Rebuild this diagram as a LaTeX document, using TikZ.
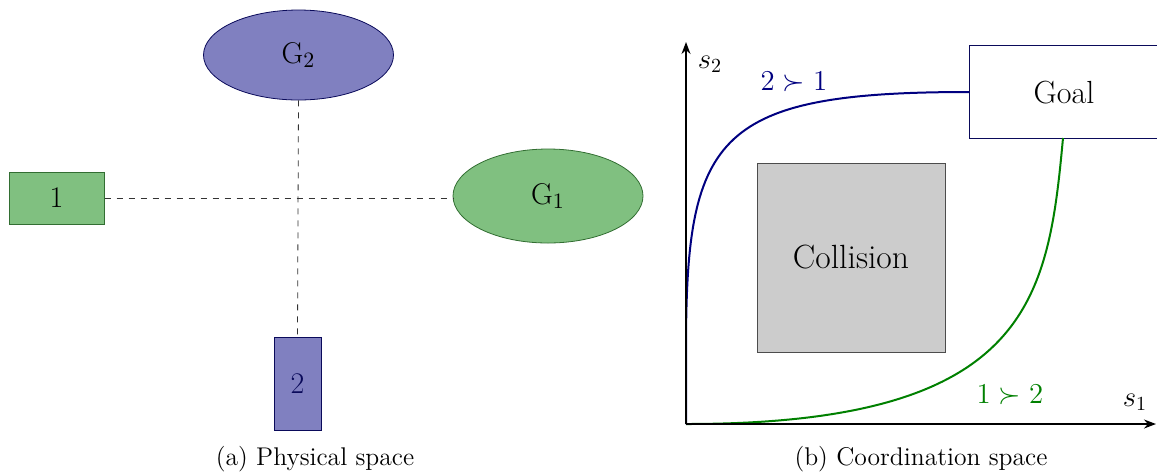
\documentclass[tikz,border=0pt]{standalone}
\usetikzlibrary{shapes.geometric,arrows.meta}
\definecolor{gfill}{RGB}{128,192,128}
\definecolor{gdraw}{RGB}{50,110,50}
\definecolor{bfill}{RGB}{128,128,192}
\definecolor{bdraw}{RGB}{10,10,90}
\definecolor{cnavy}{RGB}{0,0,128}
\definecolor{cgreen}{RGB}{0,128,0}
\definecolor{cgray}{RGB}{204,204,204}
\begin{document}
\begin{tikzpicture}[x=0.5pt,y=-0.5pt,
  agentg/.style={draw=gdraw,fill=gfill,inner sep=0pt,line width=0.5pt},
  agentb/.style={draw=bdraw,fill=bfill,inner sep=0pt,line width=0.5pt,text=bdraw},
  goalg/.style={ellipse,draw=gdraw,fill=gfill,minimum width=95pt,minimum height=47pt,inner sep=0pt,line width=0.4pt},
  goalb/.style={ellipse,draw=bdraw,fill=bfill,minimum width=95pt,minimum height=45pt,inner sep=0pt,line width=0.4pt},
  dpath/.style={dashed,line width=0.4pt,draw=black!80},
  axisarr/.style={-{Stealth[length=6pt,width=4.5pt]},line width=0.8pt},
  captxt/.style={font=\fontsize{12.8}{15}\selectfont},
  lbl/.style={font=\fontsize{15}{17}\selectfont}]
\useasboundingbox (0,0) rectangle (1157,473);
% (a) physical space
\node[agentg,minimum width=47.5pt,minimum height=26pt,lbl] (a1) at (56.5,198) {1};
\node[agentb,minimum width=23.5pt,minimum height=46.5pt,lbl] (a2) at (297.5,383.5) {2};
\node[goalb,lbl] (g2) at (298.5,55) {G$_2$};
\node[goalg,lbl] (g1) at (548,196) {G$_1$};
\draw[dpath] (a1.east) -- (a1.east -| g1.west);
\draw[dpath] (g2.south) -- (a2.north);
\node[captxt] (capa) at (315,459) {(a) Physical space};
% (b) coordination space
\coordinate (o) at (686,424);
\coordinate (ytop) at (686,42);
\coordinate (xend) at (1156,424);
\coordinate (bstart) at (686,340);
\node[draw=black!70,fill=cgray,minimum width=94pt,minimum height=94.5pt,inner sep=0pt,line width=0.5pt,font=\fontsize{16.8}{19}\selectfont] (col) at (851,257.5) {Collision};
\node[draw=bdraw,fill=white,minimum width=110pt,minimum height=46.5pt,inner sep=0pt,line width=0.5pt,anchor=north west] (goal) at (969,45) {};
\node[font=\fontsize{16}{18}\selectfont] (goaltxt) at (1064,93) {Goal};
\draw[cnavy,line width=1pt] (o) -- (bstart) .. controls (687,135) and (718,92) .. (goal.west);
\draw[cgreen,line width=1pt] (o) .. controls (1030,424) and (1048,300) .. (1063,138);
\draw[axisarr] (o) -- (ytop);
\draw[axisarr] (o) -- (xend);
\node[font=\fontsize{14}{16}\selectfont] (s2) at (710,64) {$s_2$};
\node[font=\fontsize{14}{16}\selectfont] (s1) at (1135,402) {$s_1$};
\node[text=cnavy,font=\fontsize{14}{16}\selectfont] (l21) at (794,82) {$2 \succ 1$};
\node[text=cgreen,font=\fontsize{14}{16}\selectfont] (l12) at (1010,395) {$1 \succ 2$};
\node[captxt] (capb) at (921,459) {(b) Coordination space};
\end{tikzpicture}
\end{document}
